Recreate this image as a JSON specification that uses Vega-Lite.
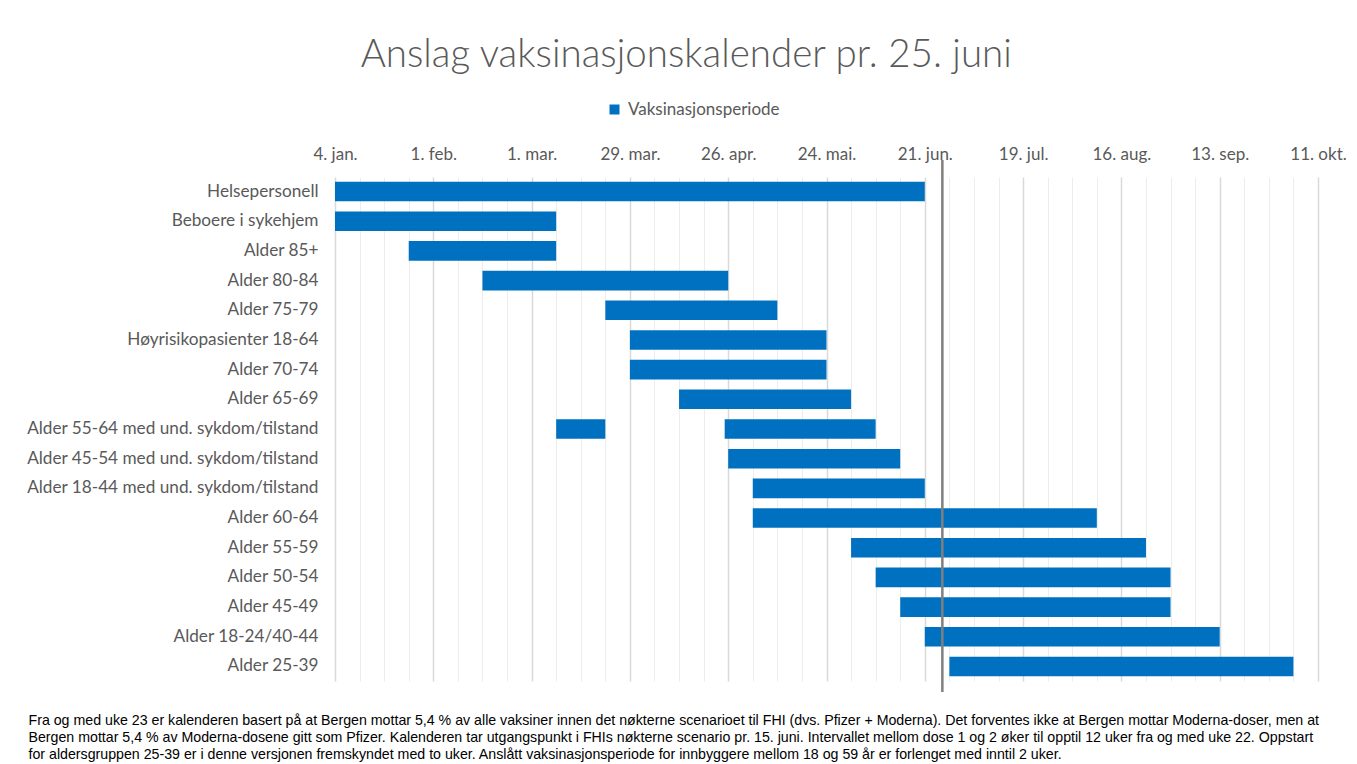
{
  "$schema": "https://vega.github.io/schema/vega-lite/v6.json",
  "width": 983,
  "height": 504,
  "autosize": "none",
  "padding": {"left": 335, "top": 177, "right": 39, "bottom": 83},
  "background": "white",
  "title": {
    "text": "Anslag vaksinasjonskalender pr. 25. juni",
    "anchor": "middle",
    "frame": "bounds",
    "font": "Lato",
    "fontWeight": 300,
    "fontSize": 38.5,
    "color": "#595959",
    "offset": 26
  },
  "config": {
    "view": {"stroke": null},
    "axis": {"labelFont": "Lato", "labelColor": "#595959", "ticks": false, "domain": false}
  },
  "layer": [
    {
      "data": {
        "values": [
          {"gruppe": "Helsepersonell", "start": "2021-01-04", "slutt": "2021-06-21", "serie": "Vaksinasjonsperiode"},
          {"gruppe": "Beboere i sykehjem", "start": "2021-01-04", "slutt": "2021-03-08", "serie": "Vaksinasjonsperiode"},
          {"gruppe": "Alder 85+", "start": "2021-01-25", "slutt": "2021-03-08", "serie": "Vaksinasjonsperiode"},
          {"gruppe": "Alder 80-84", "start": "2021-02-15", "slutt": "2021-04-26", "serie": "Vaksinasjonsperiode"},
          {"gruppe": "Alder 75-79", "start": "2021-03-22", "slutt": "2021-05-10", "serie": "Vaksinasjonsperiode"},
          {"gruppe": "Høyrisikopasienter 18-64", "start": "2021-03-29", "slutt": "2021-05-24", "serie": "Vaksinasjonsperiode"},
          {"gruppe": "Alder 70-74", "start": "2021-03-29", "slutt": "2021-05-24", "serie": "Vaksinasjonsperiode"},
          {"gruppe": "Alder 65-69", "start": "2021-04-12", "slutt": "2021-05-31", "serie": "Vaksinasjonsperiode"},
          {"gruppe": "Alder 55-64 med und. sykdom/tilstand", "start": "2021-03-08", "slutt": "2021-03-22", "serie": "Vaksinasjonsperiode"},
          {"gruppe": "Alder 55-64 med und. sykdom/tilstand", "start": "2021-04-25", "slutt": "2021-06-07", "serie": "Vaksinasjonsperiode"},
          {"gruppe": "Alder 45-54 med und. sykdom/tilstand", "start": "2021-04-26", "slutt": "2021-06-14", "serie": "Vaksinasjonsperiode"},
          {"gruppe": "Alder 18-44 med und. sykdom/tilstand", "start": "2021-05-03", "slutt": "2021-06-21", "serie": "Vaksinasjonsperiode"},
          {"gruppe": "Alder 60-64", "start": "2021-05-03", "slutt": "2021-08-09", "serie": "Vaksinasjonsperiode"},
          {"gruppe": "Alder 55-59", "start": "2021-05-31", "slutt": "2021-08-23", "serie": "Vaksinasjonsperiode"},
          {"gruppe": "Alder 50-54", "start": "2021-06-07", "slutt": "2021-08-30", "serie": "Vaksinasjonsperiode"},
          {"gruppe": "Alder 45-49", "start": "2021-06-14", "slutt": "2021-08-30", "serie": "Vaksinasjonsperiode"},
          {"gruppe": "Alder 18-24/40-44", "start": "2021-06-21", "slutt": "2021-09-13", "serie": "Vaksinasjonsperiode"},
          {"gruppe": "Alder 25-39", "start": "2021-06-28", "slutt": "2021-10-04", "serie": "Vaksinasjonsperiode"}
        ]
      },
      "mark": {"type": "bar", "cornerRadius": 0},
      "encoding": {
        "y": {
          "field": "gruppe",
          "type": "nominal",
          "sort": null,
          "scale": {"paddingInner": 0.34, "paddingOuter": 0.16},
          "axis": {"title": null, "labelFontSize": 17.2, "labelPadding": 17, "labelLimit": 400, "grid": false}
        },
        "x": {
          "field": "start",
          "type": "temporal",
          "scale": {"type": "utc", "domain": [1609718400000, 1633910400000]},
          "axis": {
            "orient": "top",
            "title": null,
            "values": [1609718400000, 1612137600000, 1614556800000, 1616976000000, 1619395200000, 1621814400000, 1624233600000, 1626652800000, 1629072000000, 1631491200000, 1633910400000],
            "labelExpr": "utcFormat(datum.value, '%-d') + '. ' + ['jan','feb','mar','apr','mai','jun','jul','aug','sep','okt','nov','des'][utcmonth(datum.value)] + '.'",
            "labelFontSize": 17,
            "labelPadding": 14,
            "labelFlush": false,
            "labelOverlap": false,
            "grid": true,
            "gridColor": "#d9d9d9",
            "gridWidth": 1.5
          }
        },
        "x2": {"field": "slutt"},
        "color": {
          "field": "serie",
          "type": "nominal",
          "scale": {"range": ["#0070C0"]},
          "legend": {
            "title": null,
            "orient": "none",
            "legendX": 271,
            "legendY": -76,
            "symbolType": "square",
            "symbolSize": 100,
            "labelFont": "Lato",
            "labelFontSize": 17,
            "labelColor": "#595959",
            "labelOffset": 5
          }
        }
      }
    },
    {
      "data": {"values": [{"dato": "2021-06-26"}]},
      "mark": {"type": "rule", "color": "#7f7f7f", "strokeWidth": 2.5, "y": -17, "y2": {"expr": "height + 11"}},
      "encoding": {
        "x": {
          "field": "dato",
          "type": "temporal",
          "axis": {
            "orient": "bottom",
            "values": [1610323200000, 1610928000000, 1611532800000, 1612742400000, 1613347200000, 1613952000000, 1615161600000, 1615766400000, 1616371200000, 1617580800000, 1618185600000, 1618790400000, 1620000000000, 1620604800000, 1621209600000, 1622419200000, 1623024000000, 1623628800000, 1624838400000, 1625443200000, 1626048000000, 1627257600000, 1627862400000, 1628467200000, 1629676800000, 1630281600000, 1630886400000, 1632096000000, 1632700800000, 1633305600000],
            "labels": false,
            "grid": true,
            "gridColor": "#ededed",
            "gridWidth": 1,
            "title": [
              "Fra og med uke 23 er kalenderen basert på at Bergen mottar 5,4 % av alle vaksiner innen det nøkterne scenarioet til FHI (dvs. Pfizer + Moderna). Det forventes ikke at Bergen mottar Moderna-doser, men at",
              "Bergen mottar 5,4 % av Moderna-dosene gitt som Pfizer. Kalenderen tar utgangspunkt i FHIs nøkterne scenario pr. 15. juni. Intervallet mellom dose 1 og 2 øker til opptil 12 uker fra og med uke 22. Oppstart",
              "for aldersgruppen 25-39 er i denne versjonen fremskyndet med to uker. Anslått vaksinasjonsperiode for innbyggere mellom 18 og 59 år er forlenget med inntil 2 uker."
            ],
            "titleFont": "Liberation Sans",
            "titleFontSize": 14.2,
            "titleFontWeight": "normal",
            "titleColor": "#000000",
            "titleAlign": "left",
            "titleAnchor": "start",
            "titleBaseline": "top",
            "titleX": -307,
            "titleY": 32,
            "titleLineHeight": 17,
            "titleLimit": 2000
          }
        }
      }
    }
  ],
  "resolve": {"axis": {"x": "independent"}}
}
